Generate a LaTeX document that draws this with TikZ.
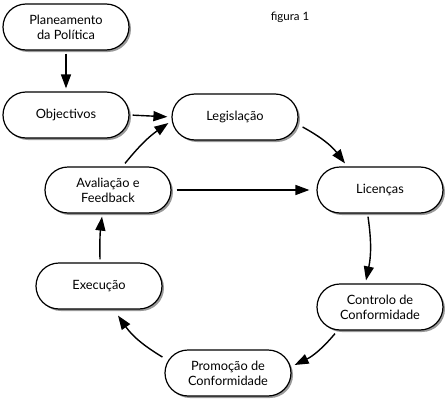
\documentclass[tikz,border=0pt]{standalone}
\usepackage{fontspec}
\setmainfont{Lato}
\usetikzlibrary{arrows.meta,shadows}
\begin{document}
\begin{tikzpicture}[x=1pt,y=-1pt,
  box/.style={draw=black,line width=1.2pt,fill=white,rounded corners=23pt,
    minimum width=126pt,minimum height=46pt,align=center,inner sep=1pt,font=\fontsize{12.8}{15}\selectfont,
    drop shadow={shadow xshift=2pt,shadow yshift=-2pt,fill=black!40,opacity=1}},
  arr/.style={line width=1.4pt,-{Triangle[length=14pt,width=10pt]}}]
\useasboundingbox (0,0) rectangle (445,399);
\node[box] (plan) at (66,27) {Planeamento\\da Política};
\node[box] (obj) at (66,115) {Objectivos};
\node[box] (leg) at (235,117) {Legislação};
\node[box] (lic) at (380,190) {Licenças};
\node[box] (ava) at (108,190) {Avaliação e\\Feedback};
\node[box] (exe) at (99,286) {Execução};
\node[box] (con) at (380,307) {Controlo de\\Conformidade};
\node[box] (pro) at (228,373) {Promoção de\\Conformidade};
\node[font=\fontsize{11.5}{13}\selectfont] (fig) at (290,17) {figura 1};
\draw[arr,shorten <=3pt,shorten >=3pt] (plan.south) -- (obj.north);
\draw[arr,shorten <=3pt,shorten >=4pt] (obj.east) -- (leg.west);
\draw[arr] ([xshift=17pt,yshift=3pt]ava.north) to[bend left=8] ([xshift=-3pt,yshift=-6pt]leg.west);
\draw[arr] ([xshift=4pt,yshift=-10pt]leg.east) to[bend left=12] ([xshift=-35pt,yshift=3pt]lic.north);
\draw[arr,shorten <=5pt,shorten >=7pt] (ava.east) -- (lic.west);
\draw[arr] ([xshift=-12pt,yshift=-3pt]lic.south) to[bend left=10] ([xshift=-14pt,yshift=3pt]con.north);
\draw[arr] ([xshift=-45pt,yshift=-3pt]con.south) to[bend left=12] ([xshift=3pt,yshift=8pt]pro.east);
\draw[arr] ([xshift=-2pt,yshift=16pt]pro.west) to[bend left=12] ([xshift=19pt,yshift=-6pt]exe.south);
\draw[arr] ([xshift=1pt,yshift=3pt]exe.north) to[bend left=4] ([xshift=-6pt,yshift=-3pt]ava.south);
\end{tikzpicture}
\end{document}
